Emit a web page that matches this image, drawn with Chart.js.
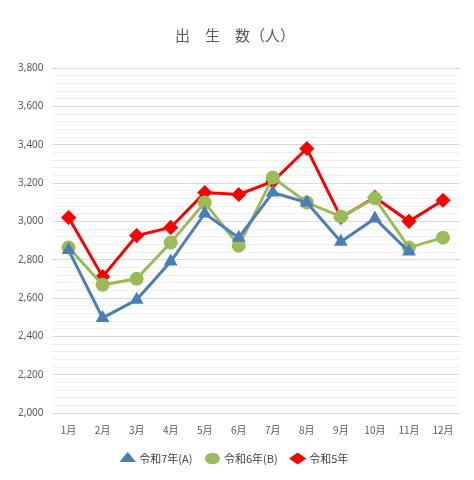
<!DOCTYPE html>
<html>
<head>
<meta charset="utf-8">
<script src="https://cdn.jsdelivr.net/npm/chart.js@4"></script>
<style>
  body { margin: 0; background: #fff; }
  #wrap { width: 474px; height: 480px; }
</style>
</head>
<body>
<div id="wrap"><canvas id="grafico"></canvas></div>
<script>
const meses = ["1月","2月","3月","4月","5月","6月","7月","8月","9月","10月","11月","12月"];
const reiwa7 = [2850, 2496, 2591, 2790, 3041, 2915, 3150, 3098, 2894, 3015, 2842, null];
const reiwa6 = [2863, 2669, 2700, 2889, 3098, 2873, 3229, 3098, 3025, 3120, 2863, 2915];
const reiwa5 = [3020, 2711, 2926, 2968, 3150, 3140, 3208, 3380, 3020, 3125, 3000, 3110];

const ctx = document.getElementById("grafico").getContext("2d");
new Chart(ctx, {
    type: "line",
    data: {
        labels: meses,
        datasets: [
            { label: "令和7年(A)", data: reiwa7, borderColor: "#4a7ebb", backgroundColor: "#4a7ebb",
              borderWidth: 3, pointStyle: "triangle", pointRadius: 5, tension: 0 },
            { label: "令和6年(B)", data: reiwa6, borderColor: "#9bbb59", backgroundColor: "#9bbb59",
              borderWidth: 3, pointStyle: "circle", pointRadius: 5.5, tension: 0 },
            { label: "令和5年", data: reiwa5, borderColor: "#ff0000", backgroundColor: "#ff0000",
              borderWidth: 3, pointStyle: "rectRot", pointRadius: 5.5, tension: 0 }
        ]
    },
    options: {
        responsive: true,
        maintainAspectRatio: false,
        animation: false,
        layout: { padding: { left: 10, right: 14, top: 26, bottom: 6 } },
        plugins: {
            title: { display: true, text: "出　生　数（人）", color: "#595959",
                     font: { family: "Noto Sans CJK JP", size: 15, weight: "normal" }, padding: { bottom: 24 } },
            legend: { position: "bottom",
                      labels: { usePointStyle: true, pointStyleWidth: 12, boxHeight: 6, padding: 14,
                                color: "#404040",
                                font: { family: "Noto Sans CJK JP", size: 11 } } }
        },
        scales: {
            x: { offset: true, grid: { display: false }, border: { display: false },
                 ticks: { autoSkip: false, maxRotation: 0, color: "#595959",
                          font: { family: "Noto Sans CJK JP", size: 10 } } },
            y: { min: 2000, max: 3800,
                 border: { display: false },
                 grid: { color: c => (c.tick.value % 200 === 0) ? "#d9d9d9" : "#f0f0f0", drawTicks: false },
                 ticks: { stepSize: 40, autoSkip: false, color: "#595959", padding: 8,
                          font: { family: "Noto Sans", size: 10 },
                          callback: v => v % 200 === 0 ? v.toLocaleString("en-US") : "" } }
        }
    }
});
</script>
</body>
</html>
